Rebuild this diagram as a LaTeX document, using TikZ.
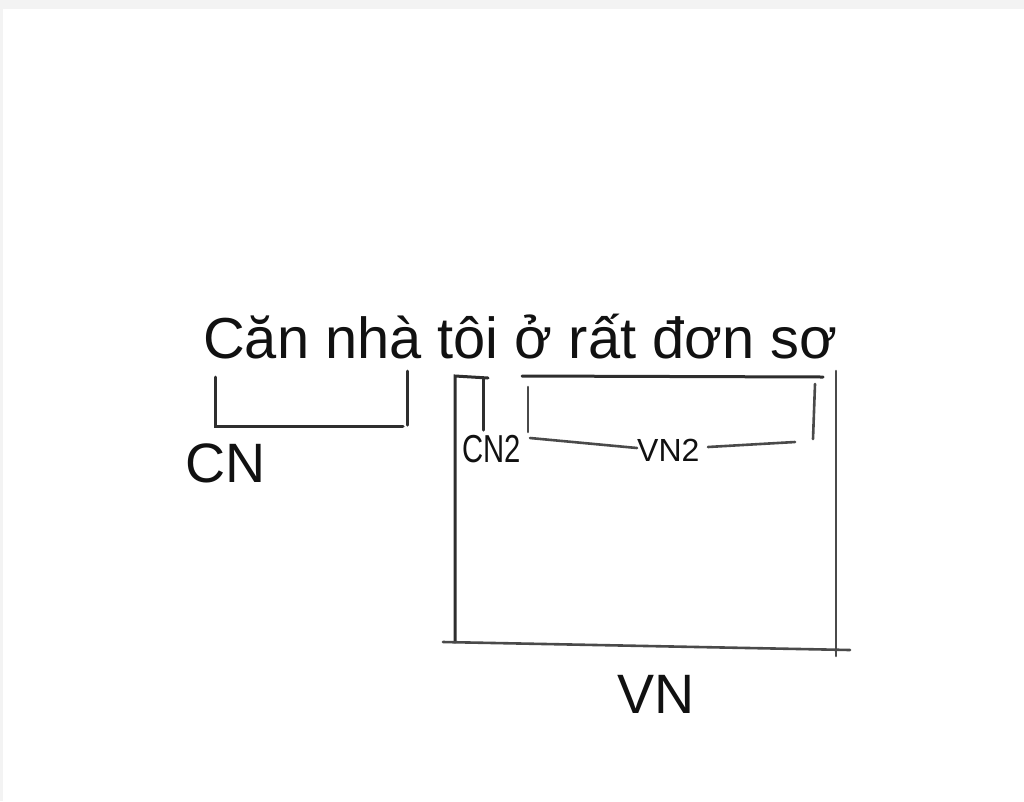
\documentclass[tikz,border=0pt]{standalone}
\usepackage{fontspec}
\setmainfont{Liberation Sans}
\definecolor{inkdark}{HTML}{2E2E2E}
\definecolor{inkgrey}{HTML}{4A4A4A}
\definecolor{txt}{HTML}{111111}
\definecolor{barbg}{HTML}{F3F3F3}
\begin{document}
\begin{tikzpicture}[x=1pt,y=-1pt,
  brk/.style={draw=inkdark,line width=3pt,line cap=round,line join=miter},
  brkthin/.style={draw=inkgrey,line width=2.6pt,line cap=round},
  lbl/.style={inner sep=0pt,anchor=base west,text=txt}]
\useasboundingbox (0,0) rectangle (1024,801);
\fill[white] (0,0) rectangle (1024,801);
\fill[barbg] (0,0) rectangle (1024,9);
\fill[barbg] (0,9) rectangle (3,801);
% sentence
\node[lbl,font=\fontsize{57.8}{60}\selectfont] (sent) at (203,358) {Căn nhà tôi ở rất đơn sơ};
% CN bracket
\coordinate (cnA) at (215,377);
\coordinate (cnB) at (215,426);
\coordinate (cnC) at (403,426);
\coordinate (cnD) at (407,371);
\coordinate (cnE) at (407,425);
\draw[brk] (cnA) -- (cnB) -- (cnC);
\draw[brk] (cnD) -- (cnE);
\node[lbl,font=\fontsize{55.5}{58}\selectfont] (cn) at (185,482) {CN};
% big VN box
\coordinate (vnTL) at (455,376);
\coordinate (vnBL) at (455,642);
\coordinate (hookR) at (488,378);
\coordinate (cn2T) at (483,378);
\coordinate (cn2B) at (483,430);
\draw[brk] (vnBL) -- (vnTL) -- (hookR);
\draw[brk] (cn2T) -- (cn2B);
\coordinate (botL) at (443,642);
\coordinate (botR) at (850,650);
\draw[brkthin] (botL) -- (botR);
\coordinate (rT) at (836,371);
\coordinate (rB) at (836,656);
\draw[brkthin] (rT) -- (rB);
\node[lbl,font=\fontsize{55.5}{58}\selectfont] (vn) at (617,713) {VN};
% CN2 label
\node[lbl,font=\fontsize{39}{42}\selectfont] (cn2) at (462,462) {\scalebox{0.75}[1]{CN2}};
% VN2 bracket
\coordinate (topL) at (522,376);
\coordinate (topR) at (823,377);
\draw[brk] (topL) -- (topR);
\coordinate (v2lT) at (528,387);
\coordinate (v2lB) at (528,432);
\draw[brkthin] (v2lT) -- (v2lB);
\node[lbl,font=\fontsize{32}{34}\selectfont] (vn2) at (637,461) {VN2};
\coordinate (v2a) at (530,438);
\coordinate (v2b) at (708,447);
\coordinate (v2c) at (795,442);
\draw[brkthin] (v2a) -- (vn2.west |- 0,448);
\draw[brkthin] (v2b) -- (v2c);
\coordinate (v2rT) at (815,384);
\coordinate (v2rB) at (813,439);
\draw[brkthin] (v2rT) -- (v2rB);
\end{tikzpicture}
\end{document}
